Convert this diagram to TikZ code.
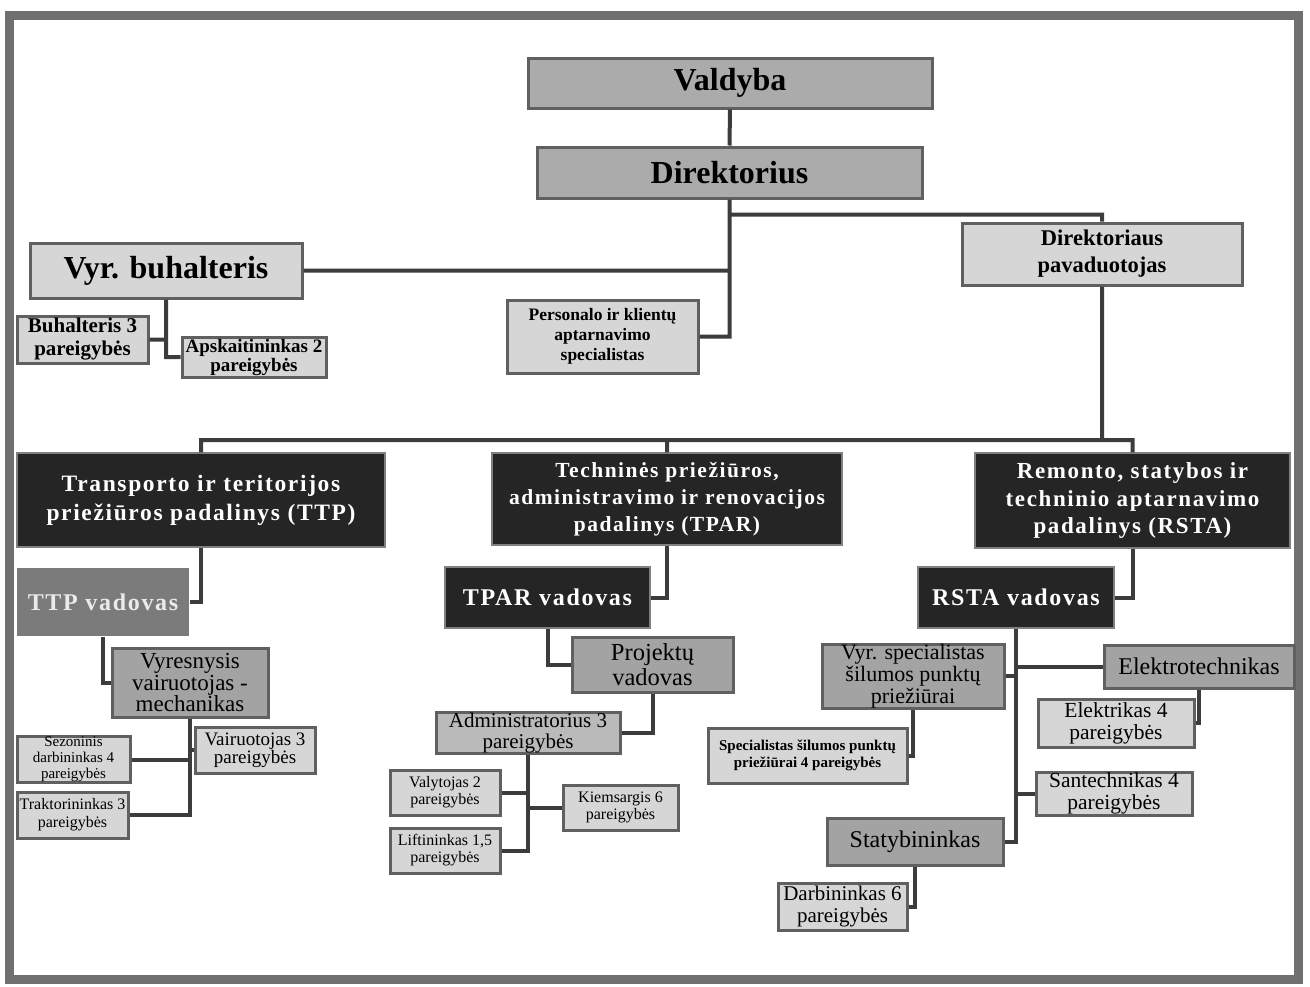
\documentclass[tikz,border=0pt]{standalone}
\usepackage{fontspec}
\setmainfont{Liberation Serif}
\newfontfamily\spacedfont[LetterSpace=7]{Liberation Serif}
\usetikzlibrary{positioning}

\definecolor{framegray}{HTML}{707070}
\definecolor{linkgray}{HTML}{3C3C3C}
\definecolor{boxedge}{HTML}{606060}
\definecolor{topfill}{HTML}{ABABAB}
\definecolor{lightfill}{HTML}{D6D6D6}
\definecolor{midfill}{HTML}{A3A3A3}
\definecolor{adminfill}{HTML}{BABABA}
\definecolor{darkfill}{HTML}{252525}
\definecolor{headfill}{HTML}{7B7B7B}

\tikzset{
  box/.style={draw=boxedge, line width=3pt, align=center, inner sep=0pt},
  topbox/.style={box, fill=topfill, font=\bfseries\fontsize{32}{34}\selectfont},
  lightbox/.style={box, fill=lightfill},
  midbox/.style={box, fill=midfill, font=\fontsize{23}{21.5}\selectfont},
  divbox/.style={box, draw=boxedge!80, line width=1.5pt, fill=darkfill, text=white,
    font=\spacedfont\bfseries\fontsize{21.5}{27}\selectfont},
  headbox/.style={box, draw=boxedge!80, line width=2pt, fill=darkfill, text=white,
    font=\spacedfont\bfseries\fontsize{24}{26}\selectfont},
  link/.style={draw=linkgray, line width=4pt}
}

\begin{document}
\begin{tikzpicture}[x=1pt, y=-1pt]
  \useasboundingbox (0,0) rectangle (1310,986);
  \draw [framegray, line width=9pt] (9,15) rectangle (1298,979);

  % top of the chart
  \node (valdyba) [topbox, minimum width=404, minimum height=50] at (730,83) {Valdyba};
  \node (direktorius) [topbox, minimum width=385, minimum height=51] at (729.5,172.5) {Direktorius};
  \node (vyrbuh) [lightbox, minimum width=272, minimum height=55,
    font=\bfseries\fontsize{32}{34}\selectfont] at (166,270.5) {Vyr. buhalteris};
  \node (pavad) [lightbox, minimum width=280, minimum height=62,
    font=\bfseries\fontsize{22.5}{27}\selectfont] at (1102,254) {Direktoriaus\\pavaduotojas};
  \node (personalo) [lightbox, minimum width=191, minimum height=73,
    font=\bfseries\fontsize{17.5}{20}\selectfont] at (602.5,336.5) {Personalo ir klientų\\aptarnavimo\\specialistas};
  \node (buhalt) [lightbox, minimum width=131, minimum height=47,
    font=\bfseries\fontsize{21}{23}\selectfont] at (82.5,339.5) {Buhalteris 3\\pareigybės};
  \node (apskait) [lightbox, minimum width=144, minimum height=40,
    font=\bfseries\fontsize{19}{19}\selectfont] at (254,357) {Apskaitininkas 2\\pareigybės};

  % padaliniai
  \coordinate (bar) at (668,440);
  \node (ttp) [divbox, minimum width=368, minimum height=94, font=\spacedfont\bfseries\fontsize{23.5}{29}\selectfont]
    at (201,500) {Transporto ir teritorijos\\priežiūros padalinys (TTP)};
  \node (tpar) [divbox, minimum width=350, minimum height=92]
    at (667,499) {Techninės priežiūros,\\administravimo ir renovacijos\\padalinys (TPAR)};
  \node (rsta) [divbox, minimum width=315, minimum height=95, font=\spacedfont\bfseries\fontsize{23}{27.5}\selectfont]
    at (1132.5,500.5) {Remonto, statybos ir\\techninio aptarnavimo\\padalinys (RSTA)};

  \node (ttpvad) [headbox, draw=none, fill=headfill, text=white!92!black, minimum width=172, minimum height=68]
    at (103,602) {TTP vadovas};
  \node (tparvad) [headbox, minimum width=205, minimum height=61] at (547.5,597.5) {TPAR vadovas};
  \node (rstavad) [headbox, minimum width=196, minimum height=61] at (1016,597.5) {RSTA vadovas};

  % TTP
  \node (vyrvair) [midbox, minimum width=156, minimum height=69] at (190,682.5) {Vyresnysis\\vairuotojas -\\mechanikas};
  \node (vairuot) [lightbox, minimum width=120, minimum height=46,
    font=\fontsize{19}{18}\selectfont] at (255,750) {Vairuotojas 3\\pareigybės};
  \node (sezon) [lightbox, minimum width=113, minimum height=45,
    font=\fontsize{15}{16}\selectfont] at (73.5,759.5) {Sezoninis\\darbininkas 4\\pareigybės};
  \node (trakt) [lightbox, minimum width=111, minimum height=46,
    font=\fontsize{16}{18}\selectfont] at (72.5,815) {Traktorininkas 3\\pareigybės};

  % TPAR
  \node (projekt) [midbox, minimum width=161, minimum height=55,
    font=\fontsize{24.5}{25}\selectfont] at (652.5,664.5) {Projektų\\vadovas};
  \node (admin) [box, fill=adminfill, minimum width=184, minimum height=41,
    font=\fontsize{21}{21}\selectfont] at (528,732.5) {Administratorius 3\\pareigybės};
  \node (valyt) [lightbox, minimum width=110, minimum height=45,
    font=\fontsize{16}{17}\selectfont] at (445,792.5) {Valytojas 2\\pareigybės};
  \node (lift) [lightbox, minimum width=110, minimum height=45,
    font=\fontsize{16}{17}\selectfont] at (445,850.5) {Liftininkas 1,5\\pareigybės};
  \node (kiems) [lightbox, minimum width=115, minimum height=45,
    font=\fontsize{16}{17}\selectfont] at (620.5,807.5) {Kiemsargis 6\\pareigybės};

  % RSTA
  \node (vyrspec) [midbox, minimum width=182, minimum height=64,
    font=\fontsize{22}{22}\selectfont] at (913,676) {Vyr. specialistas\\šilumos punktų\\priežiūrai};
  \node (elektrot) [midbox, minimum width=190, minimum height=43,
    font=\fontsize{24}{24}\selectfont] at (1199,666.5) {Elektrotechnikas};
  \node (elektrik) [lightbox, minimum width=156, minimum height=48,
    font=\fontsize{21.5}{22}\selectfont] at (1116,723) {Elektrikas 4\\pareigybės};
  \node (specsil) [lightbox, minimum width=199, minimum height=55,
    font=\bfseries\fontsize{15}{17}\selectfont] at (807.5,755.5) {Specialistas šilumos punktų\\priežiūrai 4 pareigybės};
  \node (santech) [lightbox, minimum width=156, minimum height=43,
    font=\fontsize{21.5}{22}\selectfont] at (1114,793.5) {Santechnikas 4\\pareigybės};
  \node (statyb) [midbox, minimum width=176, minimum height=47,
    font=\fontsize{24}{24}\selectfont] at (915,841.5) {Statybininkas};
  \node (darbin) [lightbox, minimum width=129, minimum height=47,
    font=\fontsize{21}{22}\selectfont] at (842.5,906.5) {Darbininkas 6\\pareigybės};

  % connectors
  \path [link]
    (valdyba.south) -- (direktorius.north)
    (direktorius.south) -- (direktorius.south |- personalo.east) -- (personalo.east)
    (vyrbuh.east) -- (vyrbuh.east -| direktorius.south)
    (direktorius.south) ++(0,15) -| (pavad.north)
    (vyrbuh.south) |- (apskait.west)
    (buhalt.east) -- (buhalt.east -| vyrbuh.south)
    (pavad.south) -- (pavad.south |- bar)
    (ttp.north) -- (ttp.north |- bar) -- (rsta.north |- bar) -- (rsta.north)
    (tpar.north) -- (tpar.north |- bar);

  \path [link]
    (ttp.south) |- (ttpvad.east)
    (tpar.south) |- (tparvad.east)
    (rsta.south) |- (rstavad.east)
    (ttpvad.south) |- (vyrvair.west)
    (vyrvair.south) |- (trakt.east)
    (sezon.east) -- (sezon.east -| vyrvair.south)
    (vairuot.west) -- (vairuot.west -| vyrvair.south)
    (tparvad.south) |- (projekt.west)
    (projekt.south) |- (admin.east)
    (admin.south) |- (lift.east)
    (valyt.east) -- (valyt.east -| admin.south)
    (kiems.west) -- (kiems.west -| admin.south)
    (rstavad.south) |- (statyb.east)
    (vyrspec.east) -- (vyrspec.east -| rstavad.south)
    (elektrot.west) -- (elektrot.west -| rstavad.south)
    (santech.west) -- (santech.west -| rstavad.south)
    (elektrot.south) |- (elektrik.east)
    (vyrspec.south) |- (specsil.east)
    (statyb.south) |- (darbin.east);
\end{tikzpicture}
\end{document}
